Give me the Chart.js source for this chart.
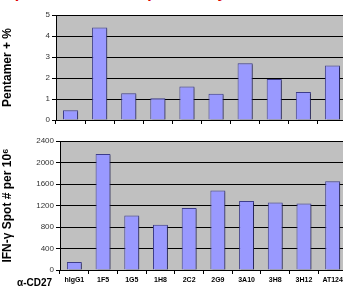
<!DOCTYPE html>
<html>
<head>
<meta charset="utf-8">
<script src="https://cdn.jsdelivr.net/npm/chart.js@4"></script>
<style>
  body { margin: 0; width: 343px; height: 290px; overflow: hidden; background: #fff; position: relative; font-family: Arial, "Liberation Sans", sans-serif; }
  #title { position: absolute; left: 4px; top: -16px; color: #e00000; font-weight: bold; font-size: 16px; white-space: nowrap; }
  #topWrap { position: absolute; left: 0; top: 0; width: 347px; height: 128px; }
  #botWrap { position: absolute; left: 0; top: 130px; width: 347px; height: 160px; }
  #cd27 { position: absolute; left: 17px; top: 277px; font-weight: bold; font-size: 10px; color: #000; }
</style>
</head>
<body>
<div id="title">Specific T Cell Responses by Pentamer</div>
<div id="topWrap"><canvas id="topChart"></canvas></div>
<div id="botWrap"><canvas id="botChart"></canvas></div>
<div id="cd27">α-CD27</div>
<script>
const clones = ['hIgG1', '1F5', '1G5', '1H8', '2C2', '2G9', '3A10', '3H8', '3H12', 'AT124'];
const pentamerPct = [0.47, 4.4, 1.27, 1.03, 1.6, 1.25, 2.7, 1.95, 1.33, 2.6];
const ifnSpots = [150, 2160, 1015, 840, 1155, 1480, 1285, 1255, 1235, 1650];

// grey plot background + soft bar shadow
const plotBg = {
    id: 'plotBg',
    beforeDraw(chart) {
        const a = chart.chartArea;
        const ctx = chart.ctx;
        ctx.save();
        ctx.fillStyle = '#c0c0c0';
        ctx.fillRect(a.left, a.top, a.right - a.left, a.bottom - a.top);
        ctx.restore();
    },
    beforeDatasetsDraw(chart) {
        const ctx = chart.ctx;
        ctx.save();
        ctx.shadowColor = 'rgba(0,0,0,0.35)';
        ctx.shadowOffsetX = 2;
        ctx.shadowOffsetY = 1;
    },
    afterDatasetsDraw(chart) {
        chart.ctx.restore();
    }
};

function makeChart(id, values, opts) {
    return new Chart(document.getElementById(id), {
        type: 'bar',
        data: {
            labels: clones,
            datasets: [{
                data: values,
                backgroundColor: '#9999ff',
                borderColor: '#3d3d8a',
                borderWidth: 1,
                borderSkipped: 'bottom',
                categoryPercentage: 1,
                barPercentage: 0.52
            }]
        },
        options: {
            responsive: true,
            maintainAspectRatio: false,
            animation: false,
            layout: { padding: { top: opts.padTop, right: 0, left: 0, bottom: 0 } },
            plugins: { legend: { display: false }, tooltip: { enabled: false } },
            scales: {
                x: {
                    offset: true,
                    grid: { offset: true, drawOnChartArea: false, drawTicks: true, tickLength: 4, color: '#000' },
                    border: { color: '#000', width: 1 },
                    ticks: {
                        display: opts.showX,
                        color: '#000',
                        font: { family: 'Arial', size: 7, weight: 'bold' },
                        padding: 2,
                        maxRotation: 0,
                        autoSkip: false
                    },
                    afterFit(scale) { scale.height = opts.xHeight; }
                },
                y: {
                    min: 0,
                    max: opts.max,
                    ticks: {
                        stepSize: opts.step,
                        color: '#333',
                        font: { family: 'Arial', size: 8 },
                        padding: 2,
                        callback: v => String(v)
                    },
                    grid: { color: '#000', lineWidth: 1, tickLength: 4 },
                    border: { color: '#000', width: 1 },
                    title: {
                        display: true,
                        text: opts.yTitle,
                        color: '#000',
                        font: { family: 'Arial', size: 12, weight: 'bold' },
                        padding: { top: 0, bottom: 0 }
                    },
                    afterFit(scale) { scale.width = opts.yWidth; }
                }
            }
        },
        plugins: [plotBg]
    });
}

makeChart('topChart', pentamerPct, {
    padTop: 15, xHeight: 8, showX: false, max: 5, step: 1,
    yTitle: 'Pentamer + %', yWidth: 56
});

makeChart('botChart', ifnSpots, {
    padTop: 11, xHeight: 20, showX: true, max: 2400, step: 400,
    yTitle: 'IFN-γ Spot # per 10⁶', yWidth: 60
});
</script>
</body>
</html>
